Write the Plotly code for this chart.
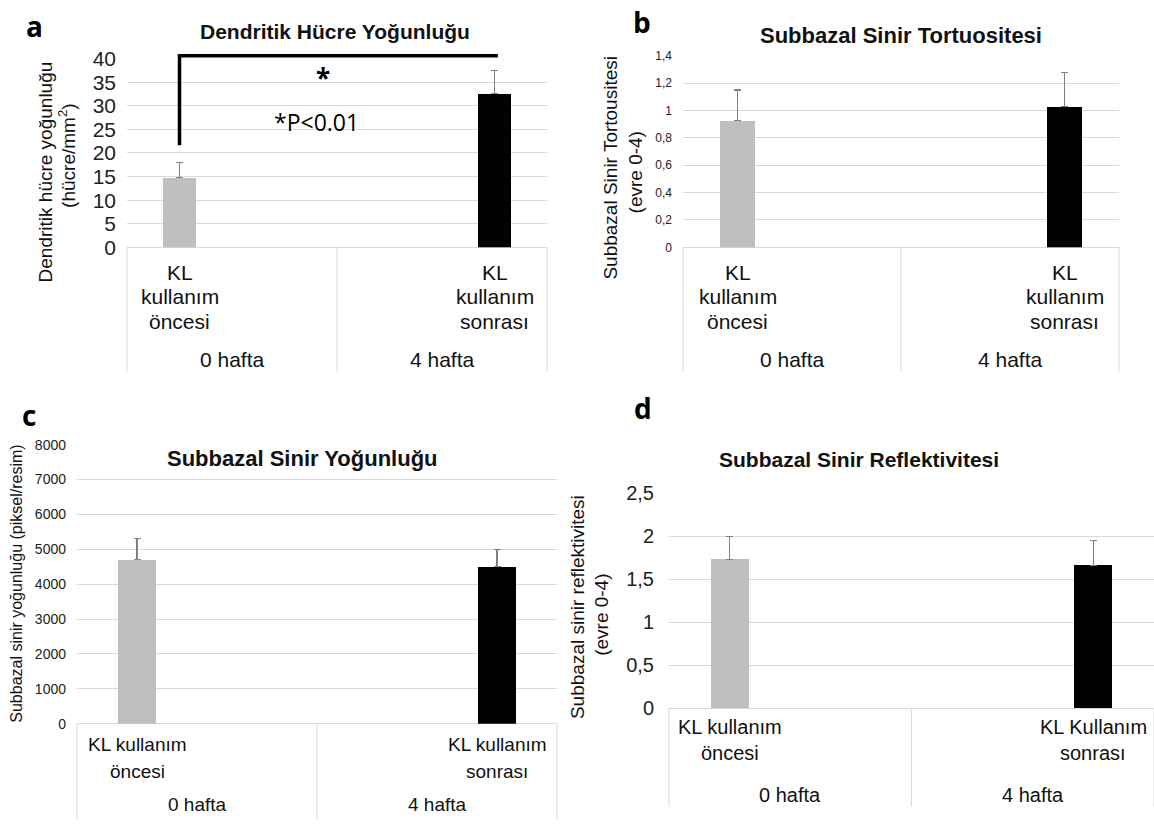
import plotly.graph_objects as go

# ---------------- data ----------------
categories = ["KL kullanım öncesi", "KL kullanım sonrası"]
weeks = ["0 hafta", "4 hafta"]

labels_ab = [["KL", "kullanım", "öncesi"], ["KL", "kullanım", "sonrası"]]
labels_c = [["KL kullanım", "öncesi"], ["KL kullanım", "sonrası"]]
labels_d = [["KL kullanım", "öncesi"], ["KL Kullanım", "sonrası"]]

dc_mean = [14.8, 32.6]        # Dendritik hücre yoğunluğu
dc_err = [3.2, 4.9]
tort_mean = [0.925, 1.03]     # Subbazal sinir tortuositesi
tort_err = [0.225, 0.25]
dens_mean = [4700, 4500]      # Subbazal sinir yoğunluğu
dens_err = [600, 500]
refl_mean = [1.73, 1.66]      # Subbazal sinir reflektivitesi
refl_err = [0.27, 0.29]

ticks_a = [0, 5, 10, 15, 20, 25, 30, 35, 40]
ticks_b = [0, 0.2, 0.4, 0.6, 0.8, 1.0, 1.2, 1.4]
ticks_c = [0, 1000, 2000, 3000, 4000, 5000, 6000, 7000, 8000]
ticks_d = [0, 0.5, 1.0, 1.5, 2.0, 2.5]

bar_colors = ["#bfbfbf", "#000000"]

# ---------------- layout helpers ----------------
W, H = 1154, 831
FONT = "Liberation Sans, Arial, sans-serif"
GRID = "#d9d9d9"

panels = [
    dict(key="", mean=dc_mean, err=dc_err, ticks=ticks_a, rng=[0, 40],
         xl=127, xr=547, yt=48, yb=242, tickfont=21, standoff=10,
         labels=labels_ab, line_y=[268, 293, 318], week_y=357, tbot=370, tfont=21,
         title="Dendritik Hücre Yoğunluğu", title_xy=(335, 20), title_size=21,
         letter="a", letter_xy=(34, 14),
         ytitle=[("Dendritik hücre yoğunluğu", 45, 165), ("(hücre/mm<sup>2</sup>)", 67, 148)], ysize=19),
    dict(key="2", mean=tort_mean, err=tort_err, ticks=ticks_b, rng=[0, 1.4],
         xl=683, xr=1119, yt=45, yb=242, tickfont=12, standoff=10,
         labels=labels_ab, line_y=[268, 293, 318], week_y=357, tbot=370, tfont=21,
         title="Subbazal Sinir Tortuositesi", title_xy=(901, 24), title_size=22,
         letter="b", letter_xy=(642, 10),
         ytitle=[("Subbazal Sinir Tortousitesi", 611, 160), ("(evre 0-4)", 635, 165)], ysize=19),
    dict(key="3", mean=dens_mean, err=dens_err, ticks=ticks_c, rng=[0, 8000],
         xl=77, xr=557, yt=445, yb=732, tickfont=14, standoff=10,
         labels=labels_c, line_y=[753, 781], week_y=815, tbot=831, tfont=19,
         title="Subbazal Sinir Yoğunluğu", title_xy=(302, 459), title_size=22,
         letter="c", letter_xy=(29, 414),
         ytitle=[("Subbazal sinir yoğunluğu (piksel/resim)", 17, 588)], ysize=16),
    dict(key="4", mean=refl_mean, err=refl_err, ticks=ticks_d, rng=[0, 2.5],
         xl=669, xr=1154, yt=495, yb=716, tickfont=20, standoff=14,
         labels=labels_d, line_y=[735, 762], week_y=805, tbot=817, tfont=20,
         title="Subbazal Sinir Reflektivitesi", title_xy=(859, 460), title_size=21,
         letter="d", letter_xy=(643, 407),
         ytitle=[("Subbazal sinir reflektivitesi", 577, 612), ("(evre 0-4)", 602, 620)], ysize=19),
]

fig = go.Figure()
shapes = []
annotations = []


def px_x(x):
    return x / W


def px_y(y):
    return 1 - y / H


for p in panels:
    k = p["key"]
    xname, yname = "x" + k, "y" + k
    fig.add_trace(go.Bar(
        x=categories, y=p["mean"], width=0.105,
        marker=dict(color=bar_colors, line=dict(width=0)),
        error_y=dict(type="data", symmetric=False, array=p["err"], arrayminus=[0, 0],
                     color="#7f7f7f", thickness=1.2, width=3.5),
        xaxis=xname, yaxis=yname, showlegend=False,
    ))
    fig.update_layout(**{
        "xaxis" + k: dict(domain=[px_x(p["xl"]), px_x(p["xr"])], type="category",
                          range=[-1 / 6, 7 / 6], showticklabels=False, showgrid=False,
                          showline=False, zeroline=False, anchor=yname, fixedrange=True),
        "yaxis" + k: dict(domain=[px_y(p["yb"]), px_y(p["yt"])], range=p["rng"],
                          tickvals=p["ticks"], showgrid=True, gridcolor=GRID, gridwidth=1,
                          zeroline=True, zerolinecolor=GRID, zerolinewidth=1,
                          showline=False, ticks="", ticklabelstandoff=p["standoff"],
                          tickfont=dict(family=FONT, size=p["tickfont"], color="#222"),
                          anchor=xname, fixedrange=True),
    })

    xd, yd = xname + " domain", yname + " domain"
    hgt = p["yb"] - p["yt"]

    def ydom(ypx, p=p, hgt=hgt):
        return (p["yb"] - ypx) / hgt

    # category table lines
    for fx in (0, 0.5, 1):
        shapes.append(dict(type="line", xref=xd, yref=yd, x0=fx, x1=fx,
                           y0=0, y1=ydom(p["tbot"]), line=dict(color=GRID, width=1)))
    # inner category labels (under each bar)
    for i, lines in enumerate(p["labels"]):
        fx = (i + 1 / 6) / (4 / 3)
        for txt, ly in zip(lines, p["line_y"]):
            annotations.append(dict(xref=xd, yref=yd, x=fx, y=ydom(ly), text=txt,
                                    showarrow=False, xanchor="center", yanchor="middle",
                                    font=dict(family=FONT, size=p["tfont"], color="#111")))
    # outer week labels
    for i, wk in enumerate(weeks):
        annotations.append(dict(xref=xd, yref=yd, x=0.25 + 0.5 * i, y=ydom(p["week_y"]),
                                text=wk, showarrow=False, xanchor="center", yanchor="middle",
                                font=dict(family=FONT, size=p["tfont"], color="#111")))
    # title
    annotations.append(dict(xref="paper", yref="paper", x=px_x(p["title_xy"][0]),
                            y=px_y(p["title_xy"][1]), text="<b>" + p["title"] + "</b>",
                            showarrow=False, xanchor="center", yanchor="middle",
                            font=dict(family=FONT, size=p["title_size"], color="#111")))
    # panel letter
    annotations.append(dict(xref="paper", yref="paper", x=px_x(p["letter_xy"][0]),
                            y=px_y(p["letter_xy"][1]), text="<b>" + p["letter"] + "</b>",
                            showarrow=False, xanchor="center", yanchor="middle",
                            font=dict(family="Open Sans, sans-serif", size=28, color="#000")))
    # y-axis titles
    for txt, tx, ty in p["ytitle"]:
        annotations.append(dict(xref="paper", yref="paper", x=px_x(tx), y=px_y(ty),
                                text=txt, textangle=-90, showarrow=False,
                                xanchor="center", yanchor="middle",
                                font=dict(family=FONT, size=p["ysize"], color="#111")))

# significance bracket on panel a
pa = panels[0]
hA = pa["yb"] - pa["yt"]
y_top = (pa["yb"] - 45) / hA
y_low = (pa["yb"] - 137) / hA
shapes.append(dict(type="path", xref="x domain", yref="y domain",
                   path=f"M 0.125,{y_low} L 0.125,{y_top} L 0.883,{y_top}",
                   line=dict(color="#000", width=3.5)))
annotations.append(dict(xref="x domain", yref="y domain", x=0.467, y=(pa["yb"] - 68) / hA,
                        text="<b>*</b>", showarrow=False, xanchor="center", yanchor="middle",
                        font=dict(family="Open Sans, sans-serif", size=26, color="#000")))
annotations.append(dict(xref="x domain", yref="y domain", x=0.45, y=(pa["yb"] - 113) / hA,
                        text="*P<0.01", showarrow=False, xanchor="center", yanchor="middle",
                        font=dict(family="Open Sans, sans-serif", size=23, color="#000")))

fig.update_layout(
    width=W, height=H, autosize=False,
    margin=dict(l=0, r=0, t=0, b=0),
    paper_bgcolor="white", plot_bgcolor="white",
    separators=",.",
    shapes=shapes, annotations=annotations,
    bargap=0,
)

fig.write_html(
    "out.html",
    config={"displayModeBar": False},
    post_script="document.body.style.margin='0px';document.body.style.overflow='hidden';",
)
